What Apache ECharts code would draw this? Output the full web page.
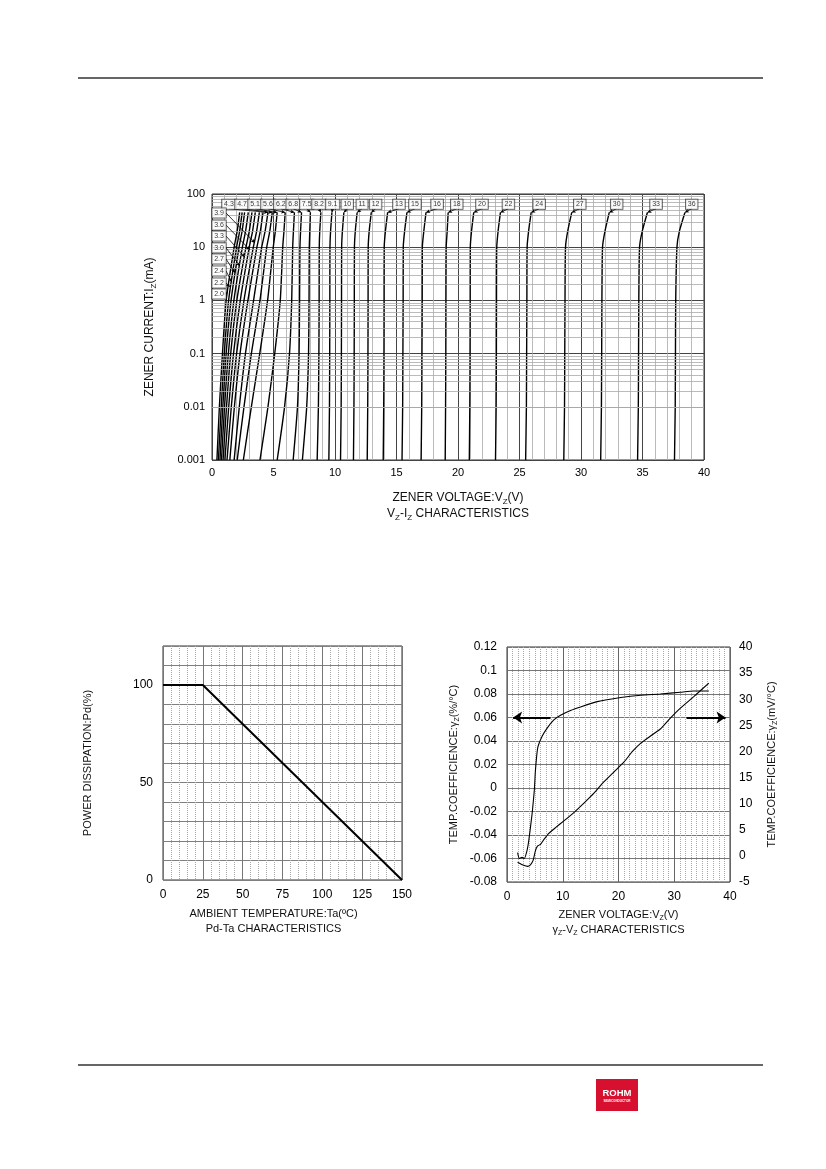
<!DOCTYPE html>
<html>
<head>
<meta charset="utf-8">
<script src="https://cdn.jsdelivr.net/npm/echarts@6.0.0/dist/echarts.min.js"></script>
<style>
  html, body { margin: 0; padding: 0; background: #fff; }
  #chart { width: 826px; height: 1169px; }
</style>
</head>
<body>
<div id="chart"></div>
<script>
// Vz-Iz: voltage read at each current level, one row per diode
const currentLevels = [0.001, 0.01, 0.1, 1, 10, 20, 45]
const zenerNames = ['2.0', '2.2', '2.4', '2.7', '3.0', '3.3', '3.6', '3.9', '4.3', '4.7', '5.1', '5.6',
  '6.2', '6.8', '7.5', '8.2', '9.1', '10', '11', '12', '13', '15', '16', '18', '20', '22', '24', '27', '30', '33', '36']
const zenerVolts = [
  [0.40, 0.60, 0.85, 1.15, 1.80, 2.05, 2.25],
  [0.52, 0.75, 1.00, 1.35, 2.00, 2.25, 2.45],
  [0.65, 0.88, 1.15, 1.55, 2.20, 2.45, 2.65],
  [0.77, 1.02, 1.33, 1.78, 2.47, 2.73, 2.95],
  [0.90, 1.18, 1.52, 2.02, 2.76, 3.03, 3.25],
  [1.05, 1.36, 1.75, 2.30, 3.03, 3.30, 3.52],
  [1.22, 1.57, 2.00, 2.60, 3.36, 3.63, 3.85],
  [1.45, 1.82, 2.28, 2.92, 3.65, 3.93, 4.15],
  [1.80, 2.22, 2.72, 3.38, 4.04, 4.32, 4.55],
  [2.05, 2.60, 3.20, 3.90, 4.45, 4.70, 4.90],
  [2.55, 3.20, 3.88, 4.52, 4.98, 5.15, 5.30],
  [3.90, 4.55, 5.10, 5.55, 5.75, 5.85, 5.95],
  [5.30, 5.90, 6.30, 6.48, 6.56, 6.62, 6.70],
  [6.60, 6.95, 7.08, 7.12, 7.15, 7.20, 7.28],
  [7.35, 7.70, 7.85, 7.89, 7.91, 7.95, 8.00],
  [8.55, 8.65, 8.69, 8.71, 8.72, 8.76, 8.85],
  [9.50, 9.55, 9.57, 9.58, 9.59, 9.64, 9.75],
  [10.45, 10.50, 10.52, 10.53, 10.54, 10.60, 10.72],
  [11.50, 11.54, 11.56, 11.57, 11.58, 11.65, 11.80],
  [12.62, 12.66, 12.68, 12.69, 12.70, 12.78, 12.95],
  [13.92, 13.96, 13.98, 13.99, 14.00, 14.10, 14.28],
  [15.45, 15.50, 15.52, 15.54, 15.55, 15.66, 15.85],
  [17.00, 17.05, 17.07, 17.09, 17.10, 17.22, 17.40],
  [18.96, 18.99, 19.01, 19.02, 19.04, 19.12, 19.20],
  [20.92, 20.96, 20.98, 20.99, 21.00, 21.10, 21.28],
  [23.05, 23.10, 23.12, 23.13, 23.15, 23.26, 23.45],
  [25.50, 25.56, 25.58, 25.60, 25.62, 25.74, 25.95],
  [28.60, 28.66, 28.68, 28.70, 28.74, 28.92, 29.25],
  [31.60, 31.66, 31.68, 31.70, 31.75, 31.95, 32.30],
  [34.60, 34.66, 34.68, 34.70, 34.76, 34.98, 35.40],
  [37.60, 37.66, 37.68, 37.70, 37.80, 38.00, 38.45]
]

// boxed labels along the top, pointing down to the curve ends
const topLabelNames = ['4.3', '4.7', '5.1', '5.6', '6.2', '6.8', '7.5', '8.2', '9.1', '10', '11', '12',
  '13', '15', '16', '18', '20', '22', '24', '27', '30', '33', '36']
const topLabelV = [1.38, 2.44, 3.5, 4.55, 5.6, 6.6, 7.7, 8.7, 9.8, 11.0, 12.2, 13.3,
  15.2, 16.5, 18.3, 19.9, 21.95, 24.1, 26.6, 29.9, 32.9, 36.1, 39.0]
const topLabelI = 64
const topArrowI = 53

// boxed labels down the left edge with leader lines
const leftLabelNames = ['3.9', '3.6', '3.3', '3.0', '2.7', '2.4', '2.2', '2.0']
const leftLabelI = [44, 26, 16.2, 9.7, 6.0, 3.57, 2.12, 1.32]
const leftLabelV = 0.57
const leaderStartV = 1.14
const leaderEndV = [3.5, 3.09, 2.68, 2.28, 1.87, 1.63, 1.46, 1.25]
const leaderEndI = [12, 8.9, 6.5, 4.4, 3.3, 2.2, 1.8, 1.45]

const logDecades = [0.001, 0.01, 0.1, 1, 10]
const logMantissas = [2, 3, 4, 5, 6, 7, 8, 9]

// Pd-Ta
const pdTemp = [0, 25, 150]
const pdPercent = [100, 100, 0]

// temperature coefficient vs Vz
const tcPctVolt = [1.9, 2.2, 2.7, 3.1, 3.6, 3.9, 4.5, 4.9, 5.1, 5.5, 6.3, 7.2, 8.4, 9.6, 11.4, 13.2, 16.2, 20.4, 24, 27.5, 31.1, 33.5, 36.2]
const tcPct = [-0.055, -0.060, -0.059, -0.060, -0.053, -0.045, -0.022, -0.002, 0.015, 0.034, 0.044, 0.051, 0.058, 0.062, 0.066, 0.069, 0.0735, 0.077, 0.079, 0.080, 0.0815, 0.0825, 0.0825]
const tcMvVolt = [1.9, 3.0, 3.7, 4.2, 4.7, 5.1, 5.5, 6.0, 6.6, 7.5, 8.7, 10.2, 12, 13.8, 15.6, 17.4, 19.2, 21, 22.5, 24, 25.8, 27.5, 29.3, 31.1, 33.5, 36.2]
const tcMv = [-1.2, -1.8, -2.0, -1.7, -0.8, 1.0, 1.9, 2.2, 3.1, 4.3, 5.4, 6.7, 8.3, 10.1, 12.0, 14.2, 16.1, 18.0, 20.0, 21.6, 23.0, 24.3, 26.4, 28.3, 30.5, 33.1]
const tcArrowLevel = 0.06
const tcArrowFrom = [7.8, 32.2]
const tcArrowTo = [1.1, 39.2]

const FONT = "'Liberation Sans', Arial, sans-serif"
const pairs = (xs, ys) => xs.map((x, i) => [x, ys[i]])

const subRich = size => ({
  t: { fontSize: size, lineHeight: size + 4, color: '#111', fontFamily: FONT },
  s: { fontSize: size - 4, lineHeight: size - 3, verticalAlign: 'bottom', color: '#111', fontFamily: FONT }
})

const chart = echarts.init(document.getElementById('chart'), null, { renderer: 'canvas' })

let series = []

// minor log grid for the Vz-Iz plot
let minorLog = []
logDecades.forEach(d => logMantissas.forEach(m => minorLog.push(d * m)))
series.push({
  type: 'line', xAxisIndex: 0, yAxisIndex: 0, data: [], z: 1, silent: true,
  markLine: {
    silent: true, symbol: ['none', 'none'], label: { show: false },
    lineStyle: { color: '#aaa', width: 0.8, type: 'solid' },
    data: minorLog.map(v => ({ yAxis: v }))
  }
})

zenerNames.forEach((name, i) => {
  series.push({
    name: name, type: 'line', xAxisIndex: 0, yAxisIndex: 0, z: 3,
    showSymbol: false, smooth: 0.2, silent: true,
    lineStyle: { color: '#000', width: 1.4 },
    data: zenerVolts[i].map((v, k) => [v, currentLevels[k]])
  })
})

// arrows from the top labels to the curve ends
let topArrows = topLabelNames.map((name, i) => {
  let row = zenerVolts[zenerNames.indexOf(name)]
  return [{ coord: [topLabelV[i], topArrowI] }, { coord: [row[row.length - 1], currentLevels[currentLevels.length - 1]] }]
})
let leftLeaders = leftLabelNames.map((name, i) => [
  { coord: [leaderStartV, leftLabelI[i]] }, { coord: [leaderEndV[i], leaderEndI[i]] }
])
series.push({
  type: 'line', xAxisIndex: 0, yAxisIndex: 0, data: [], z: 4, silent: true,
  markLine: {
    silent: true, symbol: ['none', 'arrow'], symbolSize: [3, 4], label: { show: false },
    lineStyle: { color: '#000', width: 0.8, type: 'solid' },
    data: topArrows.concat(leftLeaders)
  }
})

const boxLabel = {
  show: true, position: 'inside', fontSize: 7, fontFamily: FONT, color: '#000',
  backgroundColor: '#fff', borderColor: '#222', borderWidth: 0.8, padding: [1.5, 2, 1, 2],
  formatter: p => p.data[2]
}
series.push({
  type: 'scatter', xAxisIndex: 0, yAxisIndex: 0, z: 6, silent: true, symbolSize: 0,
  label: boxLabel,
  data: topLabelNames.map((n, i) => [topLabelV[i], topLabelI, n])
    .concat(leftLabelNames.map((n, i) => [leftLabelV, leftLabelI[i], n]))
})

// Pd-Ta
series.push({
  type: 'line', xAxisIndex: 1, yAxisIndex: 1, showSymbol: false, silent: true,
  lineStyle: { color: '#000', width: 2 }, data: pairs(pdTemp, pdPercent)
})

// temp coefficient curves
series.push({
  type: 'line', xAxisIndex: 2, yAxisIndex: 2, showSymbol: false, silent: true, smooth: 0.15,
  lineStyle: { color: '#000', width: 1.1 }, data: pairs(tcPctVolt, tcPct),
  markLine: {
    silent: true, symbol: ['none', 'arrow'], symbolSize: [9, 9], label: { show: false },
    lineStyle: { color: '#000', width: 2, type: 'solid' },
    data: tcArrowFrom.map((v, i) => [{ coord: [v, tcArrowLevel] }, { coord: [tcArrowTo[i], tcArrowLevel] }])
  }
})
series.push({
  type: 'line', xAxisIndex: 2, yAxisIndex: 3, showSymbol: false, silent: true, smooth: 0.15,
  lineStyle: { color: '#000', width: 1.1 }, data: pairs(tcMvVolt, tcMv)
})

const tickLabel = size => ({ color: '#000', fontSize: size, fontFamily: FONT })

const option = {
  animation: false,
  backgroundColor: '#fff',
  grid: [
    { left: 212, top: 194, width: 492, height: 266, show: true, borderColor: '#333', borderWidth: 1, backgroundColor: 'transparent' },
    { left: 163, top: 646, width: 239, height: 234, show: true, borderColor: '#333', borderWidth: 1, backgroundColor: 'transparent' },
    { left: 507, top: 647, width: 223, height: 235, show: true, borderColor: '#333', borderWidth: 1, backgroundColor: 'transparent' }
  ],
  xAxis: [
    {
      gridIndex: 0, type: 'value', min: 0, max: 40, interval: 5,
      axisLine: { show: false }, axisTick: { show: false },
      axisLabel: Object.assign({ margin: 7 }, tickLabel(11)),
      splitLine: { show: true, lineStyle: { color: '#444', width: 1 } },
      minorTick: { show: false, splitNumber: 5 },
      minorSplitLine: { show: true, lineStyle: { color: '#aaa', width: 0.8 } },
      name: '{t|ZENER VOLTAGE:V}{s|Z}{t|(V)}\n{t|V}{s|Z}{t|-I}{s|Z}{t| CHARACTERISTICS}',
      nameLocation: 'middle', nameGap: 30,
      nameTextStyle: { rich: subRich(12) }
    },
    {
      gridIndex: 1, type: 'value', min: 0, max: 150, interval: 25,
      axisLine: { show: false }, axisTick: { show: false },
      axisLabel: Object.assign({ margin: 9 }, tickLabel(12)),
      splitLine: { show: true, lineStyle: { color: '#777', width: 1 } },
      minorTick: { show: false, splitNumber: 5 },
      minorSplitLine: { show: true, lineStyle: { color: '#aaa', width: 1, type: 'dotted' } },
      name: '{t|AMBIENT TEMPERATURE:Ta(ºC)}\n{t|Pd-Ta CHARACTERISTICS}',
      nameLocation: 'middle', nameGap: 26,
      nameTextStyle: { rich: subRich(11), padding: [0, 18, 0, 0] }
    },
    {
      gridIndex: 2, type: 'value', min: 0, max: 40, interval: 10,
      axisLine: { show: false }, axisTick: { show: false },
      axisLabel: Object.assign({ margin: 9 }, tickLabel(12)),
      splitLine: { show: true, lineStyle: { color: '#666', width: 1 } },
      minorTick: { show: false, splitNumber: 10 },
      minorSplitLine: { show: true, lineStyle: { color: '#aaa', width: 1, type: 'dotted' } },
      name: '{t|ZENER VOLTAGE:V}{s|Z}{t|(V)}\n{t|γ}{s|Z}{t|-V}{s|Z}{t| CHARACTERISTICS}',
      nameLocation: 'middle', nameGap: 25,
      nameTextStyle: { rich: subRich(11) }
    }
  ],
  yAxis: [
    {
      gridIndex: 0, type: 'log', logBase: 10, min: 0.001, max: 100,
      axisLine: { show: false }, axisTick: { show: false },
      axisLabel: Object.assign({ margin: 7, formatter: v => String(+(+v).toPrecision(2)) }, tickLabel(11)),
      splitLine: { show: true, lineStyle: { color: '#444', width: 1 } },
      name: '{t|ZENER CURRENT:I}{s|Z}{t|(mA)}',
      nameLocation: 'middle', nameGap: 54, nameRotate: 90,
      nameTextStyle: { rich: subRich(12) }
    },
    {
      gridIndex: 1, type: 'value', min: 0, max: 120, interval: 10,
      axisLine: { show: false }, axisTick: { show: false },
      axisLabel: Object.assign({ margin: 10, formatter: v => (v % 50 === 0 ? String(v) : '') }, tickLabel(12)),
      splitLine: { show: true, lineStyle: { color: '#808080', width: 1 } },
      name: '{t|POWER DISSIPATION:Pd(%)}',
      nameLocation: 'middle', nameGap: 68, nameRotate: 90,
      nameTextStyle: { rich: subRich(11) }
    },
    {
      gridIndex: 2, type: 'value', min: -0.08, max: 0.12, interval: 0.02,
      axisLine: { show: false }, axisTick: { show: false },
      axisLabel: Object.assign({ margin: 10, formatter: v => String(+(+v).toFixed(2)) }, tickLabel(12)),
      splitLine: { show: true, lineStyle: { color: '#777', width: 1 } },
      name: '{t|TEMP.COEFFICIENCE:γ}{s|Z}{t|(%/°C)}',
      nameLocation: 'middle', nameGap: 46, nameRotate: 90,
      nameTextStyle: { rich: subRich(11) }
    },
    {
      gridIndex: 2, type: 'value', position: 'right', min: -5, max: 40, interval: 5,
      axisLine: { show: false }, axisTick: { show: false },
      axisLabel: Object.assign({ margin: 9 }, tickLabel(12)),
      splitLine: { show: false },
      name: '{t|TEMP.COEFFICIENCE:γ}{s|Z}{t|(mV/°C)}',
      nameLocation: 'middle', nameGap: 34, nameRotate: 90,
      nameTextStyle: { rich: subRich(11) }
    }
  ],
  graphic: [
    { type: 'line', shape: { x1: 78, y1: 78, x2: 763, y2: 78 }, style: { stroke: '#333', lineWidth: 1.5 } },
    { type: 'line', shape: { x1: 78, y1: 1065, x2: 763, y2: 1065 }, style: { stroke: '#333', lineWidth: 1.5 } },
    { type: 'rect', shape: { x: 596, y: 1079, width: 42, height: 32 }, style: { fill: '#d7102f' } },
    { type: 'text', x: 617, y: 1093, style: { text: 'ROHM', fill: '#fff', font: "bold 9.5px 'Liberation Sans', Arial", textAlign: 'center', textVerticalAlign: 'middle' } },
    { type: 'text', x: 617, y: 1101, style: { text: 'SEMICONDUCTOR', fill: '#fff', font: "bold 3px 'Liberation Sans', Arial", textAlign: 'center', textVerticalAlign: 'middle' } }
  ],
  series: series
}

chart.setOption(option)
</script>
</body>
</html>
